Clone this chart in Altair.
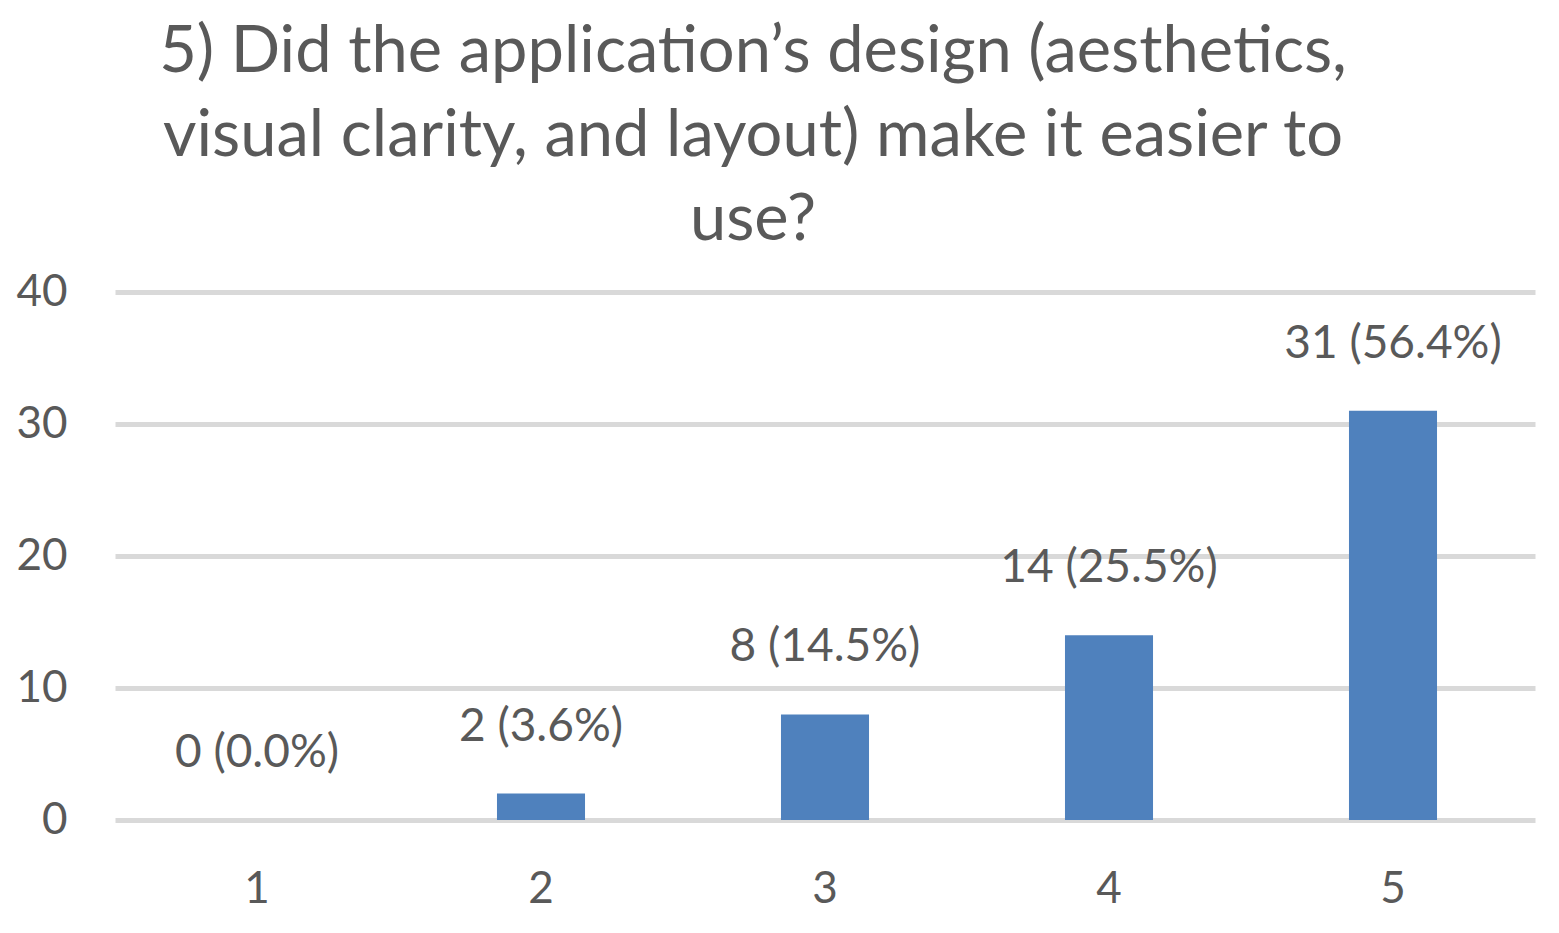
import altair as alt
import pandas as pd

categories = ["1", "2", "3", "4", "5"]
counts = [0, 2, 8, 14, 31]
labels = ["0 (0.0%)", "2 (3.6%)", "8 (14.5%)", "14 (25.5%)", "31 (56.4%)"]
title_lines = [
    "5) Did the application\u2019s design (aesthetics,",
    "visual clarity, and layout) make it easier to",
    "use?",
]

df = pd.DataFrame({"cat": categories, "count": counts, "label": labels})

FONT = "Lato"
TXT = "#595959"

x = alt.X("cat:N", sort=categories, title=None,
          scale=alt.Scale(paddingInner=0.69, paddingOuter=0.345),
          axis=alt.Axis(labelAngle=0, ticks=False, domain=False, labelFont=FONT,
                        labelFontSize=44, labelColor=TXT, labelPadding=47, grid=False))
y = alt.Y("count:Q", title=None,
          scale=alt.Scale(domain=[0, 40], nice=False),
          axis=alt.Axis(values=[0, 10, 20, 30, 40], ticks=False, domain=False,
                        labelFont=FONT, labelFontSize=44, labelColor=TXT,
                        labelPadding=48, gridColor="#d9d9d9", gridWidth=5))

bars = alt.Chart(df).mark_bar(color="#4f81bd").encode(x=x, y=y)
text = alt.Chart(df).mark_text(font=FONT, fontSize=46, color=TXT, baseline="alphabetic",
                               dy=-53).encode(
    x=alt.X("cat:N", sort=categories), y="count:Q", text="label:N")

chart = alt.layer(bars, text).properties(
    width=1420, height=528,
    title=alt.TitleParams(text=title_lines, font=FONT, fontSize=65, fontWeight="normal",
                          color=TXT, lineHeight=84, anchor="middle", dx=-72, offset=16),
    autosize=alt.AutoSizeParams(type="none"),
    padding={"left": 107, "top": 284, "right": 16, "bottom": 105},
).configure_view(stroke=None)

chart.save("out.html", embed_options={"renderer": "svg", "actions": False})
